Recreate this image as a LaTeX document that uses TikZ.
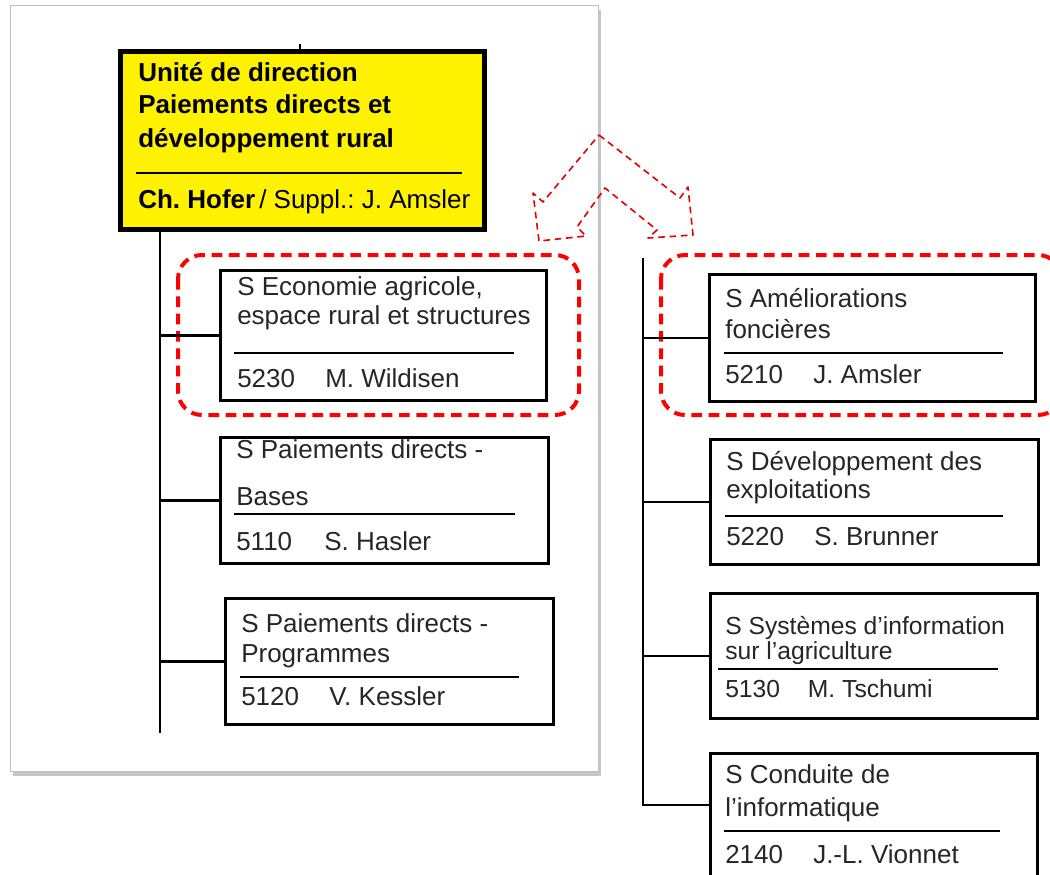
\documentclass[tikz,border=0pt]{standalone}
\usepackage{fontspec}
\setmainfont{Liberation Sans}
\usetikzlibrary{shadows}
\frenchspacing

\begin{document}
\begin{tikzpicture}[x=0.75pt,y=-0.75pt,
  every node/.style={font=\fontsize{19.5}{23}\selectfont, inner sep=0pt},
  sbox/.style={draw, line width=2.2pt, anchor=north west, minimum width=245pt},
  txt/.style={anchor=base west, text=black!85},
  bar/.style={line width=2.2pt},
  trunk/.style={line width=1.6pt},
  focus/.style={red, line width=3pt, dash pattern=on 8pt off 5pt, rounded corners=18pt},
  swap/.style={red!90!black, line width=1.2pt, dash pattern=on 5pt off 3.5pt, line join=round}]
\clip (0,0) rectangle (1050,875);

% page of the old chart
\filldraw[fill=white, draw=black!25, drop shadow={shadow xshift=2.5pt, shadow yshift=-4pt, opacity=.45}]
  (10,5) rectangle (598,771);

% highlighted services
\draw[focus] (178,255) rectangle (579,415);
\draw[focus] (661,255) rectangle (1062,415);

% direction
\node[draw, line width=3.75pt, fill=yellow, anchor=north west, minimum width=273pt, minimum height=133.5pt] (direction) at (118,49) {};
\node[txt, text=black, font=\fontsize{19.5}{23}\bfseries] (dir-t1) at (138,81) {Unité de direction};
\node[txt, text=black, font=\fontsize{19.5}{23}\bfseries] (dir-t2) at (138,113) {Paiements directs et};
\node[txt, text=black, font=\fontsize{19.5}{23}\bfseries] (dir-t3) at (138,147) {développement rural};
\draw[bar] (136,173) -- (462,173);
\node[txt, text=black] (dir-n) at (138,208) {\textbf{Ch. Hofer}\hspace{3pt}/ Suppl.: J. Amsler};
\coordinate (stub) at (300,44);
\draw[line width=0.8pt] (stub) -- (stub |- direction.north);

% left column
\node[sbox, minimum width=244.5pt, minimum height=97.5pt] (eco) at (219,269) {};
\node[txt] (eco-t1) at (237,295) {S Economie agricole,};
\node[txt] (eco-t2) at (237,324) {espace rural et structures};
\draw[bar] (234,353) -- (514,353);
\node[txt] (eco-n) at (237,387) {\makebox[66pt][l]{5230}M. Wildisen};

\node[sbox, minimum width=246pt, minimum height=94.5pt] (bases) at (219,436) {};
\node[txt] (bases-t1) at (236,458) {S Paiements directs -};
\node[txt] (bases-t2) at (236,505) {Bases};
\draw[bar] (234,514) -- (515,514);
\node[txt] (bases-n) at (236,550) {\makebox[66pt][l]{5110}S. Hasler};

\node[sbox, minimum width=246pt, minimum height=94.5pt] (prog) at (224,597) {};
\node[txt] (prog-t1) at (241,632) {S Paiements directs -};
\node[txt] (prog-t2) at (241,662) {Programmes};
\draw[bar] (240,677) -- (519,677);
\node[txt] (prog-n) at (241,705) {\makebox[66pt][l]{5120}V. Kessler};

\coordinate (lend) at (160,733);
\draw[trunk] (direction.south -| lend) -- (lend);
\foreach \b in {eco,bases,prog}
  \draw[trunk] (\b.west -| lend) -- (\b.west);

% right column
\node[sbox, minimum width=244.5pt, minimum height=95.25pt] (amel) at (708,273) {};
\node[txt] (amel-t1) at (725,307) {S Améliorations};
\node[txt] (amel-t2) at (725,338) {foncières};
\draw[bar] (724,353) -- (1003,353);
\node[txt] (amel-n) at (725,383) {\makebox[66pt][l]{5210}J. Amsler};

\node[sbox, minimum width=246pt, minimum height=93.75pt] (expl) at (709,438) {};
\node[txt] (expl-t1) at (726,470) {S Développement des};
\node[txt] (expl-t2) at (726,498) {exploitations};
\draw[bar] (725,516) -- (1003,516);
\node[txt] (expl-n) at (726,545) {\makebox[66pt][l]{5220}S. Brunner};

\node[sbox, minimum width=245.25pt, minimum height=93.75pt] (sia) at (709,592) {};
\node[txt, font=\fontsize{18.5}{22}\selectfont] (sia-t1) at (725,634) {S Systèmes d’information};
\node[txt, font=\fontsize{18.5}{22}\selectfont] (sia-t2) at (725,659) {sur l’agriculture};
\draw[bar] (718,669) -- (998,669);
\node[txt, font=\fontsize{18.5}{22}\selectfont] (sia-n) at (725,697) {\makebox[62pt][l]{5130}M. Tschumi};

\node[sbox, minimum width=245.25pt, minimum height=111pt] (info) at (709,752) {};
\node[txt] (info-t1) at (725,783) {S Conduite de};
\node[txt] (info-t2) at (725,816) {l’informatique};
\draw[bar] (724,831) -- (1000,831);
\node[txt] (info-n) at (725,863) {\makebox[66pt][l]{2140}J.-L. Vionnet};

\coordinate (rtop) at (643,258);
\coordinate (rend) at (643,805);
\draw[trunk] (rtop) -- (rend) -- (rend -| info.west);
\foreach \b in {amel,expl,sia}
  \draw[trunk] (\b.west -| rend) -- (\b.west);

% exchange arrow
\draw[swap] (599,135) -- (680,198) -- (688,187) -- (693,235) -- (648,238) -- (657,230)
  -- (605,188) -- (577,227) -- (586,236) -- (539,241) -- (533,193) -- (543,202) -- cycle;
\end{tikzpicture}
\end{document}
